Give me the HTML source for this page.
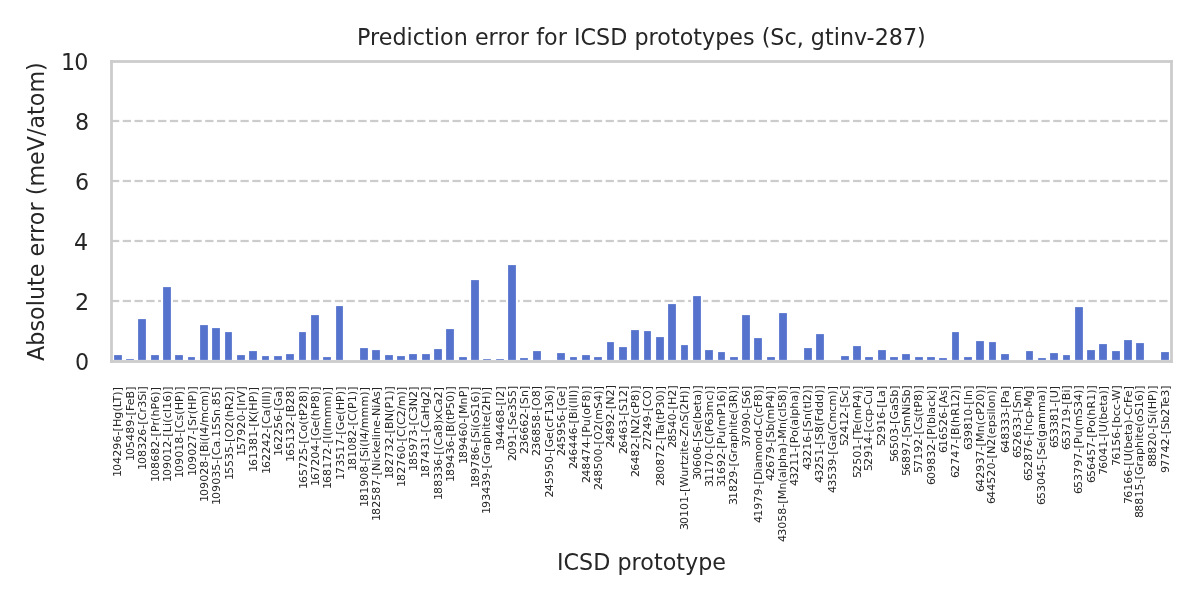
<!DOCTYPE html>
<html lang="en"><head><meta charset="utf-8"><title>Prediction error for ICSD prototypes (Sc, gtinv-287)</title>
<style>
html,body{margin:0;padding:0;background:#fff;}
body{width:1200px;height:600px;overflow:hidden;}
svg{display:block;}
text{font-family:"DejaVu Sans","Liberation Sans",sans-serif;fill:#262626;white-space:pre;}
.b{font-size:22.22px;}
.x{font-size:11.11px;}
</style></head><body>
<svg width="1200" height="600" viewBox="0 0 1200 600">
<rect x="0" y="0" width="1200" height="600" fill="#ffffff"/>
<g stroke="#cccccc" stroke-dasharray="8.24 3.538" fill="none">
<line x1="110.98" y1="301" x2="1171" y2="301" stroke-width="4" stroke-opacity="0.12"/>
<line x1="110.98" y1="301" x2="1171" y2="301" stroke-width="2"/>
<line x1="110.98" y1="241" x2="1171" y2="241" stroke-width="4" stroke-opacity="0.12"/>
<line x1="110.98" y1="241" x2="1171" y2="241" stroke-width="2"/>
<line x1="110.98" y1="181" x2="1171" y2="181" stroke-width="4" stroke-opacity="0.12"/>
<line x1="110.98" y1="181" x2="1171" y2="181" stroke-width="2"/>
<line x1="110.98" y1="121" x2="1171" y2="121" stroke-width="4" stroke-opacity="0.12"/>
<line x1="110.98" y1="121" x2="1171" y2="121" stroke-width="2"/>
</g>
<g fill="#ffffff">
<rect x="112" y="353" width="12" height="7"/>
<rect x="124" y="357" width="12" height="3"/>
<rect x="136" y="317" width="12" height="43"/>
<rect x="149" y="353" width="12" height="7"/>
<rect x="161" y="285" width="12" height="75"/>
<rect x="173" y="353" width="12" height="7"/>
<rect x="186" y="355" width="11" height="5"/>
<rect x="198" y="323" width="12" height="37"/>
<rect x="210" y="326" width="12" height="34"/>
<rect x="223" y="330" width="11" height="30"/>
<rect x="235" y="353" width="12" height="7"/>
<rect x="247" y="349" width="12" height="11"/>
<rect x="260" y="354" width="11" height="6"/>
<rect x="272" y="354" width="12" height="6"/>
<rect x="284" y="352" width="12" height="8"/>
<rect x="297" y="330" width="11" height="30"/>
<rect x="309" y="313" width="12" height="47"/>
<rect x="321" y="355" width="12" height="5"/>
<rect x="334" y="304" width="11" height="56"/>
<rect x="358" y="346" width="12" height="14"/>
<rect x="370" y="348" width="12" height="12"/>
<rect x="383" y="353" width="12" height="7"/>
<rect x="395" y="354" width="12" height="6"/>
<rect x="407" y="352" width="12" height="8"/>
<rect x="420" y="352" width="12" height="8"/>
<rect x="432" y="347" width="12" height="13"/>
<rect x="444" y="327" width="12" height="33"/>
<rect x="457" y="355" width="12" height="5"/>
<rect x="469" y="278" width="12" height="82"/>
<rect x="481" y="357" width="12" height="3"/>
<rect x="494" y="357" width="12" height="3"/>
<rect x="506" y="263" width="12" height="97"/>
<rect x="518" y="356" width="12" height="4"/>
<rect x="531" y="349" width="12" height="11"/>
<rect x="555" y="351" width="12" height="9"/>
<rect x="568" y="355" width="11" height="5"/>
<rect x="580" y="353" width="12" height="7"/>
<rect x="592" y="355" width="12" height="5"/>
<rect x="605" y="340" width="11" height="20"/>
<rect x="617" y="345" width="12" height="15"/>
<rect x="629" y="328" width="12" height="32"/>
<rect x="642" y="329" width="11" height="31"/>
<rect x="654" y="335" width="12" height="25"/>
<rect x="666" y="302" width="12" height="58"/>
<rect x="679" y="343" width="11" height="17"/>
<rect x="691" y="294" width="12" height="66"/>
<rect x="703" y="348" width="12" height="12"/>
<rect x="716" y="350" width="11" height="10"/>
<rect x="728" y="355" width="12" height="5"/>
<rect x="740" y="313" width="12" height="47"/>
<rect x="752" y="336" width="12" height="24"/>
<rect x="765" y="355" width="12" height="5"/>
<rect x="777" y="311" width="12" height="49"/>
<rect x="802" y="346" width="12" height="14"/>
<rect x="814" y="332" width="12" height="28"/>
<rect x="839" y="354" width="12" height="6"/>
<rect x="851" y="344" width="12" height="16"/>
<rect x="863" y="355" width="12" height="5"/>
<rect x="876" y="348" width="12" height="12"/>
<rect x="888" y="355" width="12" height="5"/>
<rect x="900" y="352" width="12" height="8"/>
<rect x="913" y="355" width="12" height="5"/>
<rect x="925" y="355" width="12" height="5"/>
<rect x="937" y="356" width="12" height="4"/>
<rect x="950" y="330" width="11" height="30"/>
<rect x="962" y="355" width="12" height="5"/>
<rect x="974" y="339" width="12" height="21"/>
<rect x="987" y="340" width="11" height="20"/>
<rect x="999" y="352" width="12" height="8"/>
<rect x="1024" y="349" width="11" height="11"/>
<rect x="1036" y="356" width="12" height="4"/>
<rect x="1048" y="351" width="12" height="9"/>
<rect x="1061" y="353" width="11" height="7"/>
<rect x="1073" y="305" width="12" height="55"/>
<rect x="1085" y="348" width="12" height="12"/>
<rect x="1097" y="342" width="12" height="18"/>
<rect x="1110" y="349" width="12" height="11"/>
<rect x="1122" y="338" width="12" height="22"/>
<rect x="1134" y="341" width="12" height="19"/>
<rect x="1159" y="350" width="12" height="10"/>
</g>
<g fill="#5573cd">
<rect x="114.11" y="355.11" width="7.78" height="4.78"/>
<rect x="126.11" y="359.11" width="7.78" height="0.78"/>
<rect x="138.11" y="319.11" width="7.78" height="40.78"/>
<rect x="151.11" y="355.11" width="7.78" height="4.78"/>
<rect x="163.11" y="287.11" width="7.78" height="72.78"/>
<rect x="175.11" y="355.11" width="7.78" height="4.78"/>
<rect x="188.11" y="357.11" width="6.78" height="2.78"/>
<rect x="200.11" y="325.11" width="7.78" height="34.78"/>
<rect x="212.11" y="328.11" width="7.78" height="31.78"/>
<rect x="225.11" y="332.11" width="6.78" height="27.78"/>
<rect x="237.11" y="355.11" width="7.78" height="4.78"/>
<rect x="249.11" y="351.11" width="7.78" height="8.78"/>
<rect x="262.11" y="356.11" width="6.78" height="3.78"/>
<rect x="274.11" y="356.11" width="7.78" height="3.78"/>
<rect x="286.11" y="354.11" width="7.78" height="5.78"/>
<rect x="299.11" y="332.11" width="6.78" height="27.78"/>
<rect x="311.11" y="315.11" width="7.78" height="44.78"/>
<rect x="323.11" y="357.11" width="7.78" height="2.78"/>
<rect x="336.11" y="306.11" width="6.78" height="53.78"/>
<rect x="360.11" y="348.11" width="7.78" height="11.78"/>
<rect x="372.11" y="350.11" width="7.78" height="9.78"/>
<rect x="385.11" y="355.11" width="7.78" height="4.78"/>
<rect x="397.11" y="356.11" width="7.78" height="3.78"/>
<rect x="409.11" y="354.11" width="7.78" height="5.78"/>
<rect x="422.11" y="354.11" width="7.78" height="5.78"/>
<rect x="434.11" y="349.11" width="7.78" height="10.78"/>
<rect x="446.11" y="329.11" width="7.78" height="30.78"/>
<rect x="459.11" y="357.11" width="7.78" height="2.78"/>
<rect x="471.11" y="280.11" width="7.78" height="79.78"/>
<rect x="483.11" y="359.11" width="7.78" height="0.78"/>
<rect x="496.11" y="359.11" width="7.78" height="0.78"/>
<rect x="508.11" y="265.11" width="7.78" height="94.78"/>
<rect x="520.11" y="358.11" width="7.78" height="1.78"/>
<rect x="533.11" y="351.11" width="7.78" height="8.78"/>
<rect x="557.11" y="353.11" width="7.78" height="6.78"/>
<rect x="570.11" y="357.11" width="6.78" height="2.78"/>
<rect x="582.11" y="355.11" width="7.78" height="4.78"/>
<rect x="594.11" y="357.11" width="7.78" height="2.78"/>
<rect x="607.11" y="342.11" width="6.78" height="17.78"/>
<rect x="619.11" y="347.11" width="7.78" height="12.78"/>
<rect x="631.11" y="330.11" width="7.78" height="29.78"/>
<rect x="644.11" y="331.11" width="6.78" height="28.78"/>
<rect x="656.11" y="337.11" width="7.78" height="22.78"/>
<rect x="668.11" y="304.11" width="7.78" height="55.78"/>
<rect x="681.11" y="345.11" width="6.78" height="14.78"/>
<rect x="693.11" y="296.11" width="7.78" height="63.78"/>
<rect x="705.11" y="350.11" width="7.78" height="9.78"/>
<rect x="718.11" y="352.11" width="6.78" height="7.78"/>
<rect x="730.11" y="357.11" width="7.78" height="2.78"/>
<rect x="742.11" y="315.11" width="7.78" height="44.78"/>
<rect x="754.11" y="338.11" width="7.78" height="21.78"/>
<rect x="767.11" y="357.11" width="7.78" height="2.78"/>
<rect x="779.11" y="313.11" width="7.78" height="46.78"/>
<rect x="804.11" y="348.11" width="7.78" height="11.78"/>
<rect x="816.11" y="334.11" width="7.78" height="25.78"/>
<rect x="841.11" y="356.11" width="7.78" height="3.78"/>
<rect x="853.11" y="346.11" width="7.78" height="13.78"/>
<rect x="865.11" y="357.11" width="7.78" height="2.78"/>
<rect x="878.11" y="350.11" width="7.78" height="9.78"/>
<rect x="890.11" y="357.11" width="7.78" height="2.78"/>
<rect x="902.11" y="354.11" width="7.78" height="5.78"/>
<rect x="915.11" y="357.11" width="7.78" height="2.78"/>
<rect x="927.11" y="357.11" width="7.78" height="2.78"/>
<rect x="939.11" y="358.11" width="7.78" height="1.78"/>
<rect x="952.11" y="332.11" width="6.78" height="27.78"/>
<rect x="964.11" y="357.11" width="7.78" height="2.78"/>
<rect x="976.11" y="341.11" width="7.78" height="18.78"/>
<rect x="989.11" y="342.11" width="6.78" height="17.78"/>
<rect x="1001.11" y="354.11" width="7.78" height="5.78"/>
<rect x="1026.11" y="351.11" width="6.78" height="8.78"/>
<rect x="1038.11" y="358.11" width="7.78" height="1.78"/>
<rect x="1050.11" y="353.11" width="7.78" height="6.78"/>
<rect x="1063.11" y="355.11" width="6.78" height="4.78"/>
<rect x="1075.11" y="307.11" width="7.78" height="52.78"/>
<rect x="1087.11" y="350.11" width="7.78" height="9.78"/>
<rect x="1099.11" y="344.11" width="7.78" height="15.78"/>
<rect x="1112.11" y="351.11" width="7.78" height="8.78"/>
<rect x="1124.11" y="340.11" width="7.78" height="19.78"/>
<rect x="1136.11" y="343.11" width="7.78" height="16.78"/>
<rect x="1161.11" y="352.11" width="7.78" height="7.78"/>
</g>
<g fill="#cccccc">
<rect x="110.1" y="60.1" width="1062.8" height="2.8"/>
<rect x="110.1" y="360.1" width="1062.8" height="2.8"/>
<rect x="110.1" y="60.1" width="2.8" height="302.8"/>
<rect x="1170.1" y="60.1" width="2.8" height="302.8"/>
</g>
<text class="b" x="357 370 378.75 392.375 406.5 412.75 425 433.75 440 453.625 467.75 474.875 488.5 497.375 506.125 519.75 529 536.125 544 557.625 566.875 574 580.5 596 610.125 627.25 634.375 648.5 657.25 670.875 679.625 693.25 702 715.125 729.25 742.875 754.5 761.625 770.25 784.375 796.625 803.625 810.75 824.875 833.625 839.875 854 866.5 874.625 888.75 902.875 917" y="45">Prediction error for ICSD prototypes (Sc, gtinv-287)</text>
<text class="b" x="557 563.5 579 593.125 610.25 617.375 631.5 640.25 653.875 662.625 676.25 685 698.125 712.25" y="570">ICSD prototype</text>
<text class="b" transform="translate(44 360.94) rotate(-90)" x="0 15.25 29.375 41 54.625 60.875 75 83.75 97.375 104.5 118.125 127 135.75 149.375 158.625 165.75 174.375 196 209.625 224.875 232.375 246 254.75 268.375 290" y="0">Absolute error (meV/atom)</text>
<text class="b" x="75" y="370">0</text>
<text class="b" x="75" y="310">2</text>
<text class="b" x="74" y="250">4</text>
<text class="b" x="75" y="190">6</text>
<text class="b" x="75" y="130">8</text>
<text class="b" x="61 74.125" y="70">10</text>
<text class="x" transform="translate(121 477.94) rotate(-90)" x="1 7 14 21.125 28.25 35.375 42.375 46.375 50.875 59.25 66.375 70.75 75.5 82.25 86.625" y="0">104296-[Hg(LT)]</text>
<text class="x" transform="translate(134 461.94) rotate(-90)" x="1 7 14 21 28.125 35.25 42.375 46.375 50.875 56.625 63.5 71.125" y="0">105489-[FeB]</text>
<text class="x" transform="translate(146 470.94) rotate(-90)" x="1 7 14 21.125 28.125 35.25 42.25 46.25 50.75 58.5 63.125 70.125 77.25 80.375" y="0">108326-[Cr3Si]</text>
<text class="x" transform="translate(159 482.94) rotate(-90)" x="1 7 14 21.125 28.125 35.25 42.375 46.375 50.875 57.375 62 66.375 73.5 80.25 87.25 91.625" y="0">108682-[Pr(hP6)]</text>
<text class="x" transform="translate(171 482.94) rotate(-90)" x="1 7 14 21.125 28.125 35.125 42.25 46.25 50.75 57 60.125 64.5 70.625 73.875 80.875 87.875 92.25" y="0">109012-[Li(cI16)]</text>
<text class="x" transform="translate(183 478.94) rotate(-90)" x="1 7 14 21.125 28.125 35.125 42.25 46.25 50.75 58.5 64.25 68.625 77 83.75 88.125" y="0">109018-[Cs(HP)]</text>
<text class="x" transform="translate(196 476.94) rotate(-90)" x="1 7 14 21.125 28.125 35.25 42.375 46.375 50.875 58 62.625 67 75.375 82.125 86.5" y="0">109027-[Sr(HP)]</text>
<text class="x" transform="translate(208 502.94) rotate(-90)" x="1 7 14 21.125 28.125 35.25 42.375 46.375 50.875 58.5 61.625 66 69.25 76.375 80.125 91 97.125 108 112.375" y="0">109028-[Bi(I4/mcm)]</text>
<text class="x" transform="translate(220 505.94) rotate(-90)" x="1 7 14 21.125 28.125 35.125 42.125 46.125 50.625 58.375 65.25 68.875 75.875 82.875 90 97.125 100.75 107.875 114.875" y="0">109035-[Ca.15Sn.85]</text>
<text class="x" transform="translate(233 480.94) rotate(-90)" x="1 7 14 21 28 35 39 43.5 52.25 59.375 63.75 70.875 78.625 85.75 90.125" y="0">15535-[O2(hR2)]</text>
<text class="x" transform="translate(245 456.94) rotate(-90)" x="1 7 14 21.125 28.25 35.375 42.375 46.375 50.875 54.125 58.75 66.375" y="0">157920-[IrV]</text>
<text class="x" transform="translate(257 472.94) rotate(-90)" x="1 7 14 21 28 35.125 42.125 46.125 50.625 57.875 62.25 70.625 77.375 81.75" y="0">161381-[K(HP)]</text>
<text class="x" transform="translate(270 474.94) rotate(-90)" x="1 7 14 21.125 28.25 35.375 42.5 46.5 51 58.75 65.625 70 73.25 76.5 79.75 84.125" y="0">162242-[Ca(III)]</text>
<text class="x" transform="translate(282 456.94) rotate(-90)" x="1 7 14 21.125 28.25 35.25 42.25 46.25 50.75 59.375 66.25" y="0">162256-[Ga]</text>
<text class="x" transform="translate(294 462.94) rotate(-90)" x="1 7 14 21 28 35 42.125 46.125 50.625 58.25 65.375 72.5" y="0">165132-[B28]</text>
<text class="x" transform="translate(307 489.94) rotate(-90)" x="1 7 14 21 28.125 35.25 42.25 46.25 50.75 58.5 65.25 69.625 74 80.75 87.875 95 99.375" y="0">165725-[Co(tP28)]</text>
<text class="x" transform="translate(319 486.94) rotate(-90)" x="1 7 14 21.125 28.25 35.25 42.375 46.375 50.875 59.5 66.375 70.75 77.875 84.625 91.75 96.125" y="0">167204-[Ge(hP8)]</text>
<text class="x" transform="translate(331 489.94) rotate(-90)" x="1 7 14 21.125 28.125 35.25 42.375 46.375 50.875 54.125 58.5 61.75 72.625 83.5 94.375 98.75" y="0">168172-[I(Immm)]</text>
<text class="x" transform="translate(344 480.94) rotate(-90)" x="1 7 14.125 21.125 28.125 35.125 42.25 46.25 50.75 59.375 66.25 70.625 79 85.75 90.125" y="0">173517-[Ge(HP)]</text>
<text class="x" transform="translate(356 471.94) rotate(-90)" x="1 7 14.125 21.125 28.125 35.25 42.375 46.375 50.875 58.625 63 69.75 76.75 81.125" y="0">181082-[C(P1)]</text>
<text class="x" transform="translate(368 507.94) rotate(-90)" x="1 7 14.125 21.125 28.25 35.25 42.375 46.375 50.875 58 61.125 65.5 68.75 75.875 79.625 90.5 101.375 112.25 116.625" y="0">181908-[Si(I4/mmm)]</text>
<text class="x" transform="translate(380 521.94) rotate(-90)" x="1 7 14.125 21.25 28.25 35.375 42.5 46.5 51 59.375 62.5 68.625 74.75 81.625 84.75 87.875 95 101.875 105.875 114.25 117.375 125 130.75" y="0">182587-[Nickeline-NiAs]</text>
<text class="x" transform="translate(393 479.94) rotate(-90)" x="1 7 14.125 21.25 28.375 35.375 42.5 46.5 51 58.625 67 71.375 78.125 85.125 89.5" y="0">182732-[BN(P1)]</text>
<text class="x" transform="translate(405 487.94) rotate(-90)" x="1 7 14.125 21.25 28.375 35.375 42.375 46.375 50.875 58.625 63 70.75 77.875 81.625 92.5 96.875" y="0">182760-[C(C2/m)]</text>
<text class="x" transform="translate(417 471.94) rotate(-90)" x="1 7 14.125 21.125 28.25 35.375 42.375 46.375 50.875 58.625 65.625 74 81.125" y="0">185973-[C3N2]</text>
<text class="x" transform="translate(429 478.94) rotate(-90)" x="1 7 14.125 21.25 28.375 35.375 42.375 46.375 50.875 58.625 65.5 73.875 81 88.125" y="0">187431-[CaHg2]</text>
<text class="x" transform="translate(442 500.94) rotate(-90)" x="1 7 14.125 21.25 28.25 35.25 42.25 46.25 50.75 55.125 62.875 69.75 76.875 81.25 87.875 95.625 102.5 109.625" y="0">188336-[(Ca8)xCa2]</text>
<text class="x" transform="translate(454 482.94) rotate(-90)" x="1 7 14.125 21.25 28.375 35.375 42.375 46.375 50.875 58.5 62.875 67.25 74 81 88 92.375" y="0">189436-[B(tP50)]</text>
<text class="x" transform="translate(467 464.94) rotate(-90)" x="1 7 14.125 21.25 28.375 35.375 42.375 46.375 50.875 60.5 67.625 74.375" y="0">189460-[MnP]</text>
<text class="x" transform="translate(479 488.94) rotate(-90)" x="1 7 14.125 21.25 28.375 35.5 42.5 46.5 51 58.125 61.25 65.625 72.375 79.5 86.5 93.5 97.875" y="0">189786-[Si(oS16)]</text>
<text class="x" transform="translate(490 514.94) rotate(-90)" x="1 7 14.125 21.125 28.25 35.25 42.375 46.375 50.875 59.5 64.125 71 78 85.125 88.25 92.625 99.5 103.875 111 119.375 123.75" y="0">193439-[Graphite(2H)]</text>
<text class="x" transform="translate(504 451.94) rotate(-90)" x="1 7 14.125 21.25 28.375 35.375 42.5 46.5 51 54.25 61.375" y="0">194468-[I2]</text>
<text class="x" transform="translate(516 461.94) rotate(-90)" x="1 7.125 14.125 21.25 28.25 32.25 36.75 43.875 50.75 57.75 64.875 71.875" y="0">2091-[Se3S5]</text>
<text class="x" transform="translate(528 454.94) rotate(-90)" x="1 7.125 14.125 21.125 28.125 35.125 42.25 46.25 50.75 57.875 65" y="0">236662-[Sn]</text>
<text class="x" transform="translate(540 456.94) rotate(-90)" x="1 7.125 14.125 21.125 28.25 35.25 42.375 46.375 50.875 59.625 66.75" y="0">236858-[O8]</text>
<text class="x" transform="translate(553 498.44) rotate(-90)" x="1 7.125 14.25 21.25 28.375 35.375 42.375 46.375 50.875 59.5 66.375 70.75 76.875 83.25 90.25 97.25 104.25 108.625" y="0">245950-[Ge(cF136)]</text>
<text class="x" transform="translate(565 456.94) rotate(-90)" x="1 7.125 14.25 21.25 28.375 35.375 42.375 46.375 50.875 59.5 66.375" y="0">245956-[Ge]</text>
<text class="x" transform="translate(577 469.94) rotate(-90)" x="1 7.125 14.25 21.25 28.375 35.5 42.5 46.5 51 58.625 61.75 66.125 69.375 72.625 75.875 80.25" y="0">246446-[Bi(III)]</text>
<text class="x" transform="translate(590 483.94) rotate(-90)" x="1 7.125 14.25 21.375 28.5 35.625 42.75 46.75 51.25 57.75 64.875 69.25 76 82.375 89.5 93.875" y="0">248474-[Pu(oF8)]</text>
<text class="x" transform="translate(602 490.94) rotate(-90)" x="1 7.125 14.25 21.375 28.375 35.375 42.375 46.375 50.875 59.625 66.75 71.125 82 89.125 96.25 100.625" y="0">248500-[O2(mS4)]</text>
<text class="x" transform="translate(614 448.94) rotate(-90)" x="1 7.125 14.25 21.375 28.5 35.625 39.625 44.125 52.5 59.625" y="0">24892-[N2]</text>
<text class="x" transform="translate(627 454.94) rotate(-90)" x="1 7.125 14.125 21.25 28.25 35.25 39.25 43.75 50.875 57.875 65" y="0">26463-[S12]</text>
<text class="x" transform="translate(639 477.94) rotate(-90)" x="1 7.125 14.125 21.25 28.375 35.5 39.5 44 52.375 59.5 63.875 70 76.75 83.875 88.25" y="0">26482-[N2(cP8)]</text>
<text class="x" transform="translate(651 450.94) rotate(-90)" x="1 7.125 14.25 21.375 28.5 35.625 39.625 44.125 51.875 60.625" y="0">27249-[CO]</text>
<text class="x" transform="translate(664 486.94) rotate(-90)" x="1 7.125 14.25 21.25 28.375 35.5 42.625 46.625 51.125 56 62.875 67.25 71.625 78.375 85.375 92.375 96.75" y="0">280872-[Ta(tP30)]</text>
<text class="x" transform="translate(676 448.94) rotate(-90)" x="1 7.125 14.25 21.25 28.375 35.375 39.375 43.875 52.25 59.375" y="0">28540-[H2]</text>
<text class="x" transform="translate(688 530.94) rotate(-90)" x="1 7 14 21 28 35 39 43.5 54.125 61.25 65.875 70.25 76.125 79.25 83.625 90.5 94.5 102.125 109.25 116.375 120.75 127.875 136.25 140.625" y="0">30101-[Wurtzite-ZnS(2H)]</text>
<text class="x" transform="translate(701 480.94) rotate(-90)" x="1 7 14 21 28 35 39 43.5 50.625 57.5 61.875 68.875 75.75 80.125 87 91.375" y="0">30606-[Se(beta)]</text>
<text class="x" transform="translate(713 487.94) rotate(-90)" x="1 7 14 21 28.125 35.125 39.125 43.625 51.375 55.75 62.5 69.5 76.5 87.375 93.5 97.875" y="0">31170-[C(P63mc)]</text>
<text class="x" transform="translate(725 487.94) rotate(-90)" x="1 7 14 21 28.125 35.25 39.25 43.75 50.25 57.375 61.75 72.625 79.375 86.375 93.375 97.75" y="0">31692-[Pu(mP16)]</text>
<text class="x" transform="translate(737 505.94) rotate(-90)" x="1 7 14 21.125 28.25 35.375 39.375 43.875 52.5 57.125 64 71 78.125 81.25 85.625 92.5 96.875 103.875 111.625 116" y="0">31829-[Graphite(3R)]</text>
<text class="x" transform="translate(750 447.94) rotate(-90)" x="1 7 14.125 21.125 28.25 35.25 39.25 43.75 50.875 57.875" y="0">37090-[S6]</text>
<text class="x" transform="translate(762 523.94) rotate(-90)" x="1 7.125 14.125 21.25 28.375 35.5 39.5 44 52.5 55.625 62.5 73.375 80.125 87.25 94.375 98.375 106.125 110.5 116.625 123 130.125 134.5" y="0">41979-[Diamond-C(cF8)]</text>
<text class="x" transform="translate(774 481.94) rotate(-90)" x="1 7.125 14.25 21.25 28.375 35.5 39.5 44 51.125 58.125 62.5 73.375 80.125 87.25 91.625" y="0">42679-[Sb(mP4)]</text>
<text class="x" transform="translate(786 542.94) rotate(-90)" x="1 7.125 14.125 21.125 28.125 35.25 39.25 43.75 53.375 60.5 64.875 71.75 74.875 81.875 89 95.875 100.25 104.25 113.875 121 125.375 131.5 134.75 141.75 148.875 153.25" y="0">43058-[Mn(alpha)-Mn(cI58)]</text>
<text class="x" transform="translate(798 486.94) rotate(-90)" x="1 7.125 14.125 21.25 28.25 35.25 39.25 43.75 50.125 56.875 61.25 68.125 71.25 78.25 85.375 92.25 96.625" y="0">43211-[Po(alpha)]</text>
<text class="x" transform="translate(811 470.94) rotate(-90)" x="1 7.125 14.125 21.25 28.25 35.25 39.25 43.75 50.875 58 62.375 66.75 70 77.125 81.5" y="0">43216-[Sn(tI2)]</text>
<text class="x" transform="translate(823 483.94) rotate(-90)" x="1 7.125 14.125 21.25 28.25 35.25 39.25 43.75 50.875 58 62.375 68.75 75.875 83 90.125 94.5" y="0">43251-[S8(Fddd)]</text>
<text class="x" transform="translate(836 493.94) rotate(-90)" x="1 7.125 14.125 21.125 28.125 35.25 39.25 43.75 52.375 59.25 63.625 71.375 82.25 88.375 99.25 103.625" y="0">43539-[Ga(Cmcm)]</text>
<text class="x" transform="translate(848 446.94) rotate(-90)" x="1 7 14.125 21.25 28.25 35.375 39.375 43.875 51 57.125" y="0">52412-[Sc]</text>
<text class="x" transform="translate(861 478.94) rotate(-90)" x="1 7 14.125 21.125 28.125 35.125 39.125 43.625 48.5 55.375 59.75 70.625 77.375 84.5 88.875" y="0">52501-[Te(mP4)]</text>
<text class="x" transform="translate(872 471.94) rotate(-90)" x="1 7 14.125 21.25 28.25 35.375 39.375 43.875 50 56.125 63.125 67.125 74.875 82" y="0">52914-[ccp-Cu]</text>
<text class="x" transform="translate(885 446.94) rotate(-90)" x="1 7 14.125 21.25 28.25 35.25 39.25 43.75 50 56.875" y="0">52916-[La]</text>
<text class="x" transform="translate(898 462.94) rotate(-90)" x="1 7 14 21 28 35 39 43.5 52.125 59 66.125 73.125" y="0">56503-[GaSb]</text>
<text class="x" transform="translate(910 476.94) rotate(-90)" x="1 7 14 21.125 28.25 35.375 39.375 43.875 51 61.875 70.25 73.375 80.5 87.5" y="0">56897-[SmNiSb]</text>
<text class="x" transform="translate(922 473.94) rotate(-90)" x="1 7 14.125 21.125 28.25 35.375 39.375 43.875 51.625 57.375 61.75 66.125 72.875 80 84.375" y="0">57192-[Cs(tP8)]</text>
<text class="x" transform="translate(935 485.94) rotate(-90)" x="1 7 14 21.125 28.25 35.25 42.375 46.375 50.875 57.625 62 69 72.125 79 85.125 91.625 96" y="0">609832-[P(black)]</text>
<text class="x" transform="translate(947 453.94) rotate(-90)" x="1 7 14 21 28 35.125 42.125 46.125 50.625 58.25 64" y="0">616526-[As]</text>
<text class="x" transform="translate(959 478.94) rotate(-90)" x="1 7 14.125 21.25 28.375 35.5 39.5 44 51.625 56 63.125 70.875 77.875 85 89.375" y="0">62747-[B(hR12)]</text>
<text class="x" transform="translate(972 450.94) rotate(-90)" x="1 7 14 21.125 28.25 35.25 42.25 46.25 50.75 54 61.125" y="0">639810-[In]</text>
<text class="x" transform="translate(984 492.94) rotate(-90)" x="1 7 14.125 21.25 28.375 35.375 42.5 46.5 51 60.625 67.75 72.125 78.25 85 92.125 99.125 103.5" y="0">642937-[Mn(cP20)]</text>
<text class="x" transform="translate(995 504.94) rotate(-90)" x="1 7 14.125 21.25 28.25 35.375 42.375 46.375 50.875 59.25 66.375 70.75 77.625 84.625 90.375 93.5 96.625 103.375 110.5 114.875" y="0">644520-[N2(epsilon)]</text>
<text class="x" transform="translate(1009 453.94) rotate(-90)" x="1 7 14.125 21.25 28.25 35.25 42.25 46.25 50.75 57 63.875" y="0">648333-[Pa]</text>
<text class="x" transform="translate(1021 458.94) rotate(-90)" x="1 7 14 21.125 28.125 35.125 42.125 46.125 50.625 57.75 68.625" y="0">652633-[Sm]</text>
<text class="x" transform="translate(1032 481.94) rotate(-90)" x="1 7 14 21.125 28.25 35.375 42.375 46.375 50.875 58 64.125 71.125 75.125 84.75 91.875" y="0">652876-[hcp-Mg]</text>
<text class="x" transform="translate(1045 505.94) rotate(-90)" x="1 7 14 21 28 35.125 42.125 46.125 50.625 57.75 64.625 69 76.125 83 93.875 104.75 111.625 116" y="0">653045-[Se(gamma)]</text>
<text class="x" transform="translate(1058 448.94) rotate(-90)" x="1 7 14 21 28 35.125 42.125 46.125 50.625 58.75" y="0">653381-[U]</text>
<text class="x" transform="translate(1070 450.94) rotate(-90)" x="1 7 14 21 28.125 35.125 42.25 46.25 50.75 58.375 61.5" y="0">653719-[Bi]</text>
<text class="x" transform="translate(1082 494.94) rotate(-90)" x="1 7 14 21 28.125 35.25 42.375 46.375 50.875 57.375 64.5 68.875 79.75 86.875 93.875 101 105.375" y="0">653797-[Pu(mS34)]</text>
<text class="x" transform="translate(1095 483.94) rotate(-90)" x="1 7 14 21 28.125 35.125 42.25 46.25 50.75 57.125 63.875 68.25 75.375 83.125 90.125 94.5" y="0">656457-[Po(hR1)]</text>
<text class="x" transform="translate(1107 475.94) rotate(-90)" x="1 7.125 14.125 21.125 28.25 35.25 39.25 43.75 51.875 56.25 63.25 70.125 74.5 81.375 85.75" y="0">76041-[U(beta)]</text>
<text class="x" transform="translate(1120 466.94) rotate(-90)" x="1 7.125 14.125 21.125 28.125 35.125 39.125 43.625 50.625 56.75 62.875 66.375 77.375" y="0">76156-[bcc-W]</text>
<text class="x" transform="translate(1132 504.94) rotate(-90)" x="1 7.125 14.125 21.125 28.125 35.125 39.125 43.625 51.75 56.125 63.125 70 74.375 81.25 85.625 89.625 97.375 102 107.75 114.625" y="0">76166-[U(beta)-CrFe]</text>
<text class="x" transform="translate(1143 518.94) rotate(-90)" x="1 7.125 14.25 21.375 28.375 35.375 39.375 43.875 52.5 57.125 64 71 78.125 81.25 85.625 92.5 96.875 103.625 110.75 117.75 124.75 129.125" y="0">88815-[Graphite(oS16)]</text>
<text class="x" transform="translate(1156 467.94) rotate(-90)" x="1 7.125 14.25 21.375 28.5 35.5 39.5 44 51.125 54.25 58.625 67 73.75 78.125" y="0">88820-[Si(HP)]</text>
<text class="x" transform="translate(1169 473.94) rotate(-90)" x="1 7.125 14.25 21.375 28.5 35.625 39.625 44.125 51.25 58.25 65.375 70.25 77.125 84.125" y="0">97742-[Sb2Te3]</text>
</svg>
</body></html>
